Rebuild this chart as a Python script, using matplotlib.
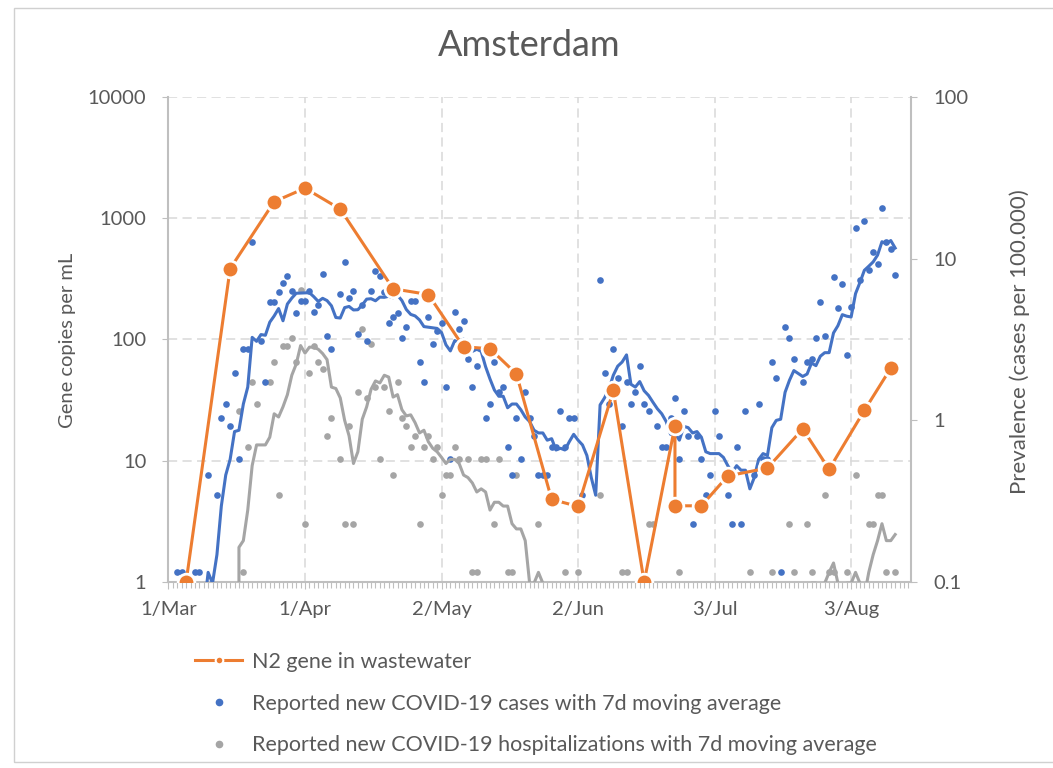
import matplotlib
matplotlib.use("Agg")
import matplotlib.pyplot as plt
from matplotlib.lines import Line2D
from matplotlib.patches import Rectangle
from matplotlib.ticker import FixedLocator, FixedFormatter, NullLocator
import matplotlib.dates as mdates
import numpy as np
import pandas as pd

plt.rcParams['font.family'] = ['Lato', 'DejaVu Sans']

start = pd.Timestamp('2020-03-01')
population = 872000  # Amsterdam: turns daily counts into "per 100.000"

# N2 gene in wastewater (gene copies per mL), days after 1 March
n2_day = [4, 14, 24, 31, 39, 51, 59, 67, 73, 79, 87, 93, 101, 108, 115, 115,
          121, 127, 136, 144, 150, 158, 164]
n2_value = [1, 384, 1370, 1770, 1190, 262, 235, 87, 84, 52, 4.8, 4.2, 38, 1,
            19.5, 4.25, 4.25, 7.5, 8.7, 18.3, 8.5, 26, 58]

# reported new cases per day (days after 1 March, count)
case_day = [2, 3, 6, 7, 9, 11, 12, 13, 14, 15, 16, 17, 18, 19, 21, 22, 23, 24,
            25, 26, 27, 28, 29, 30, 31, 32, 33, 34, 35, 36, 37, 39, 40, 41, 42,
            43, 44, 45, 46, 47, 48, 49, 50, 51, 52, 53, 54, 55, 56, 57, 58, 59,
            60, 61, 62, 63, 64, 65, 66, 67, 68, 69, 70, 72, 73, 74, 75, 76, 77,
            78, 79, 80, 81, 82, 83, 84, 85, 86, 87, 88, 89, 90, 91, 92, 94, 98,
            99, 100, 101, 102, 103, 104, 105, 106, 107, 108, 109, 111, 112, 113,
            114, 115, 116, 117, 118, 119, 120, 121, 122, 123, 124, 125, 127, 128,
            129, 130, 131, 133, 134, 135, 136, 137, 138, 139, 140, 141, 142, 144,
            145, 146, 147, 148, 149, 151, 152, 153, 154, 155, 156, 157, 158, 159,
            160, 161, 162, 163, 164, 165]
case_count = [1, 1, 1, 1, 4, 3, 9, 11, 8, 17, 5, 24, 24, 110, 27, 15, 47, 47,
              54, 62, 68, 55, 40, 48, 48, 55, 41, 45, 70, 29, 24, 53, 83, 50, 55,
              30, 45, 27, 55, 73, 68, 54, 35, 38, 40, 28, 33, 48, 48, 20, 15, 38,
              26, 31, 35, 14, 5, 41, 32, 36, 21, 14, 19, 9, 11, 20, 13, 14, 6,
              4, 9, 5, 13, 9, 7, 4, 4, 4, 6, 6, 10, 6, 9, 9, 3, 64,
              17, 11, 24, 16, 8, 15, 11, 13, 19, 11, 10, 8, 6, 6,
              9, 12, 5, 10, 7, 2, 7, 5, 3, 4, 10, 7, 3, 2,
              6, 2, 10, 4, 11, 5, 5, 20, 16, 1, 33, 28, 21, 15,
              20, 21, 28, 47, 29, 67, 43, 61, 22, 44, 134, 64, 149, 74,
              96, 81, 179, 111, 100, 69]

# reported new hospitalizations per day (days after 1 March, count)
hosp_day = [16, 17, 18, 19, 20, 23, 24, 25, 26, 27, 28, 29, 30, 31, 32, 33, 34,
            35, 36, 37, 39, 40, 41, 42, 43, 44, 45, 46, 47, 48, 49, 50, 51, 52,
            53, 54, 55, 56, 57, 58, 59, 60, 61, 62, 63, 64, 65, 66, 68, 69, 70,
            71, 72, 74, 75, 77, 78, 79, 84, 90, 93, 98, 103, 104, 109, 110, 116,
            132, 137, 141, 142, 145, 146, 149, 150, 151, 154, 156, 159, 160, 161,
            162, 163, 165]
hosp_count = [10, 1, 6, 15, 11, 15, 20, 3, 25, 25, 28, 20, 56, 2, 17, 25, 20,
              18, 7, 9, 5, 2, 8, 2, 13, 32, 12, 26, 14, 5, 14, 10, 4, 15,
              9, 8, 6, 7, 2, 6, 7, 5, 6, 3, 4, 4, 6, 5, 5, 1, 1,
              5, 5, 2, 5, 1, 1, 4, 2, 1, 1, 3, 1, 1, 2, 2, 1,
              1, 1, 2, 1, 2, 1, 3, 1, 1, 1, 4, 2, 2, 3,
              3, 1, 1]

x_ticks = ['2020-03-01', '2020-04-01', '2020-05-02', '2020-06-02', '2020-07-03', '2020-08-03']
x_labels = ['1/Mar', '1/Apr', '2/May', '2/Jun', '3/Jul', '3/Aug']

orange = '#ED7D31'
blue = '#4472C4'
grey = '#A5A5A5'
text_col = '#595959'
axis_col = '#BFBFBF'

# daily series with zero on days without a dot, then 7 day moving average
per100k = 100000 / population
days = np.arange(0, 166)
cases = pd.Series(0.0, index=days)
cases.loc[case_day] = case_count
hosp = pd.Series(0.0, index=days)
hosp.loc[hosp_day] = hosp_count
cases_ma = (cases * per100k).rolling(7).mean()
hosp_ma = (hosp * per100k).rolling(7).mean()


def to_dates(d):
    return start + pd.to_timedelta(np.asarray(d), unit='D')


fig = plt.figure(figsize=(10.53, 7.68), dpi=100)
ax = fig.add_axes([0.16, 0.2422, 0.7056, 0.6315])
ax2 = ax.twinx()
ax3 = ax.twinx()

# right axis: cases and hospitalizations
ax2.set_yscale('log')
ax2.set_ylim(0.1, 100)
ax2.plot(to_dates(hosp_day), np.array(hosp_count) * per100k, 'o', color=grey, ms=4.8, mec='none')
ax2.plot(to_dates(case_day), np.array(case_count) * per100k, 'o', color=blue, ms=4.8, mec='none')
ax2.plot(to_dates(days), hosp_ma.values, color=grey, lw=2.2)
ax2.plot(to_dates(days), cases_ma.values, color=blue, lw=2.2)

# wastewater on top, same scale as the left axis
ax3.set_yscale('log')
ax3.set_ylim(1, 10000)
ax3.plot(to_dates(n2_day), n2_value, color=orange, lw=2.2, marker='o', ms=12,
         mec='white', mew=2)
ax3.axis('off')

ax.set_yscale('log')
ax.set_ylim(1, 10000)
ax.set_xlim(start, start + pd.Timedelta(days=168.7))
ax.yaxis.set_major_locator(FixedLocator([1, 10, 100, 1000, 10000]))
ax.yaxis.set_major_formatter(FixedFormatter(['1', '10', '100', '1000', '10000']))
ax.yaxis.set_minor_locator(NullLocator())
ax2.yaxis.set_major_locator(FixedLocator([0.1, 1, 10, 100]))
ax2.yaxis.set_major_formatter(FixedFormatter(['0.1', '1', '10', '100']))
ax2.yaxis.set_minor_locator(NullLocator())

ax.set_xticks(pd.to_datetime(x_ticks))
ax.set_xticklabels(x_labels)
ax.xaxis.set_minor_locator(mdates.DayLocator())

ax.grid(True, which='major', color='#D9D9D9', lw=1.1, ls=(0, (6, 3.5)))

for a in (ax, ax2):
    for s in a.spines.values():
        s.set_color(axis_col)
        s.set_linewidth(1.5)
    a.spines['top'].set_visible(False)
ax.spines['right'].set_visible(False)
ax2.spines['left'].set_visible(False)
ax2.spines['bottom'].set_visible(False)

ax.tick_params(axis='y', length=4, color=axis_col, labelsize=14.5, labelcolor=text_col, pad=12)
ax2.tick_params(axis='y', length=4, color=axis_col, labelsize=14.5, labelcolor=text_col, pad=12)
ax.tick_params(axis='x', which='major', length=5, color=axis_col, labelsize=14.5,
               labelcolor=text_col, pad=9)
ax.tick_params(axis='x', which='minor', length=4, color=axis_col, width=0.8)

fig.text(0.503, 1 - 45 / 768, 'Amsterdam', ha='center', va='center', fontsize=26, color=text_col)
fig.text(67 / 1053, 1 - 340 / 768, 'Gene copies per mL', rotation=90, ha='center',
         va='center', fontsize=14.5, color=text_col)
fig.text(1020 / 1053, 1 - 342 / 768, 'Prevalence (cases per 100.000)', rotation=90,
         ha='center', va='center', fontsize=16, color=text_col)

handles = [
    Line2D([], [], color=orange, lw=2.2, marker='o', ms=5.5, mec='white', mew=1.5),
    Line2D([], [], ls='none', marker='o', color=blue, ms=4.5),
    Line2D([], [], ls='none', marker='o', color=grey, ms=4.5),
]
labels = ['N2 gene in wastewater',
          'Reported new COVID-19 cases with 7d moving average',
          'Reported new COVID-19 hospitalizations with 7d moving average']
fig.legend(handles, labels, loc='upper left', bbox_to_anchor=(195 / 1053, 1 - 652 / 768),
           frameon=False, fontsize=15.5, handlelength=2.2, handletextpad=0.45,
           labelspacing=1.0, borderpad=0, borderaxespad=0, labelcolor=text_col)

fig.patches.append(Rectangle((14 / 1053, 6 / 768), 1.2, 1 - 14 / 768, transform=fig.transFigure,
                             fill=False, edgecolor='#D0D0D0', lw=1))

fig.savefig('out.png', dpi=100)
